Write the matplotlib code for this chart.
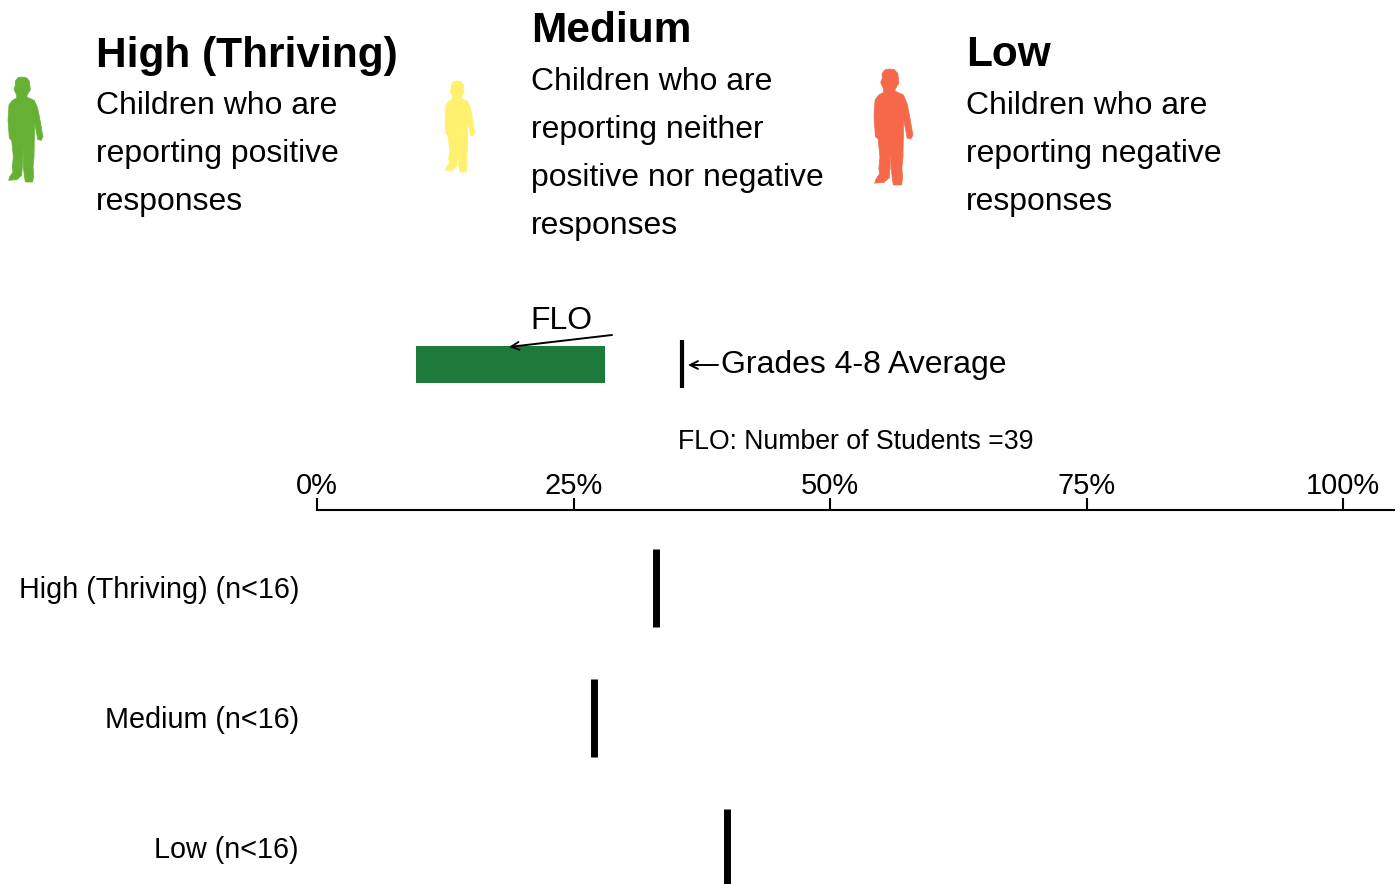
import matplotlib
matplotlib.use("Agg")
import matplotlib.pyplot as plt
from matplotlib.patches import Polygon

plt.rcParams["font.family"] = ["Liberation Sans", "DejaVu Sans"]

W, H = 1400, 884

# data
categories = ["High (Thriving) (n<16)", "Medium (n<16)", "Low (n<16)"]
category_values = [33.0, 27.0, 40.0]
flo_start = 9.65
flo_end = 28.07
grades_average = 35.6
tick_values = [0, 25, 50, 75, 100]
tick_labels = ["0%", "25%", "50%", "75%", "100%"]

headings = ["High (Thriving)", "Medium", "Low"]
descriptions = [
    ["Children who are", "reporting positive", "responses"],
    ["Children who are", "reporting neither", "positive nor negative", "responses"],
    ["Children who are", "reporting negative", "responses"],
]
person_colors = ["#66b133", "#fff06e", "#f5694a"]
person_boxes = [(8, 43, 77, 182), (445, 475, 81, 172), (874, 913, 69, 185)]

# child silhouette outline
PERSON = [(65, 52), (78, 54), (87, 64), (89, 80), (90, 90), (85, 98), (80, 106), (80, 112),
          (102, 122), (112, 145), (119, 180), (125, 215), (128, 230), (122, 241),
          (112, 238), (108, 215), (103, 190), (102, 230), (101, 290), (98, 320),
          (100, 345), (97, 365), (75, 365), (72, 345), (69, 320), (68, 255), (67, 255),
          (66, 320), (64, 345), (50, 358), (25, 360), (28, 350), (38, 335), (36, 320),
          (39, 290), (34, 240), (27, 235), (23, 180), (26, 135), (36, 122), (49, 115),
          (49, 105), (45, 98), (41, 88), (45, 78), (45, 64), (53, 54)]


def px_axes(fig, x0, x1, y0, y1):
    # axes placed by reference pixels, y counted from the top
    return fig.add_axes([x0 / W, 1 - y1 / H, (x1 - x0) / W, (y1 - y0) / H])


def draw_person(ax, box, color):
    x0, x1, y0, y1 = box
    xs = [p[0] for p in PERSON]
    ys = [p[1] for p in PERSON]
    sx = (x1 - x0) / (max(xs) - min(xs))
    sy = (y1 - y0) / (max(ys) - min(ys))
    pts = [(x0 + (x - min(xs)) * sx, y0 + (y - min(ys)) * sy) for x, y in PERSON]
    ax.add_patch(Polygon(pts, closed=True, facecolor=color, edgecolor=color,
                         lw=0.5, joinstyle="round"))


fig = plt.figure(figsize=(W / 100, H / 100), dpi=100)

# legend panel and annotations in pixel space, kept on top so the arrow shows over the bar
bg = px_axes(fig, 0, W, 0, H)
bg.set_xlim(0, W)
bg.set_ylim(H, 0)
bg.axis("off")
bg.set_zorder(5)

heading_pos = [(96, 56), (531, 31), (966, 55)]
line_starts = [106, 82, 106]
text_x = [96, 531, 966]
for i, heading in enumerate(headings):
    draw_person(bg, person_boxes[i], person_colors[i])
    bg.text(heading_pos[i][0], heading_pos[i][1], heading, fontsize=30.5,
            fontweight="bold", va="center", ha="left")
    for j, line in enumerate(descriptions[i]):
        bg.text(text_x[i], line_starts[i] + j * 48, line, fontsize=22.95,
                va="center", ha="left")

bg.text(530.5, 321, "FLO", fontsize=22.95, va="center", ha="left")
bg.annotate("", xy=(509, 347), xytext=(612, 335),
            arrowprops=dict(arrowstyle="->", lw=1.4, color="black", shrinkA=0, shrinkB=0,
                            mutation_scale=14))
bg.annotate("", xy=(688, 365), xytext=(718, 365),
            arrowprops=dict(arrowstyle="->", lw=1.4, color="black", shrinkA=0, shrinkB=0,
                            mutation_scale=14))
bg.text(721, 365, "Grades 4-8 Average", fontsize=23.0, va="center", ha="left")
bg.text(678, 442, "FLO: Number of Students =39", fontsize=19.2, va="center", ha="left")

# FLO bar and grades average, same x scale as the main axis
x_max = (1394 - 317) / 10.26
top = px_axes(fig, 317, 1394, 340, 388)
top.set_xlim(0, x_max)
top.set_ylim(388, 340)
top.axis("off")
top.patch.set_alpha(0)
top.barh(364.5, flo_end - flo_start, left=flo_start, height=37, color="#1d7a3a")
top.vlines(grades_average, 340, 388, color="black", lw=3)

# main axis with a row per category
ax = px_axes(fig, 317, 1394, 510, 884)
ax.patch.set_alpha(0)
ax.set_xlim(0, x_max)
ax.set_ylim((884 - 587.5) / 130, (510 - 587.5) / 130)
ax.vlines(category_values, [i - 0.3 for i in range(3)], [i + 0.3 for i in range(3)],
          color="black", lw=5)
for s in ["left", "right", "bottom"]:
    ax.spines[s].set_visible(False)
ax.spines["top"].set_linewidth(1.5)
ax.xaxis.tick_top()
ax.set_xticks(tick_values)
ax.set_xticklabels(tick_labels, fontsize=20.9)
ax.tick_params(axis="x", length=9, width=1.5, pad=-1.5)
ax.set_yticks(range(3))
ax.set_yticklabels(categories, fontsize=20.7)
ax.tick_params(axis="y", length=0, pad=13)

fig.savefig("out.png", dpi=100)
